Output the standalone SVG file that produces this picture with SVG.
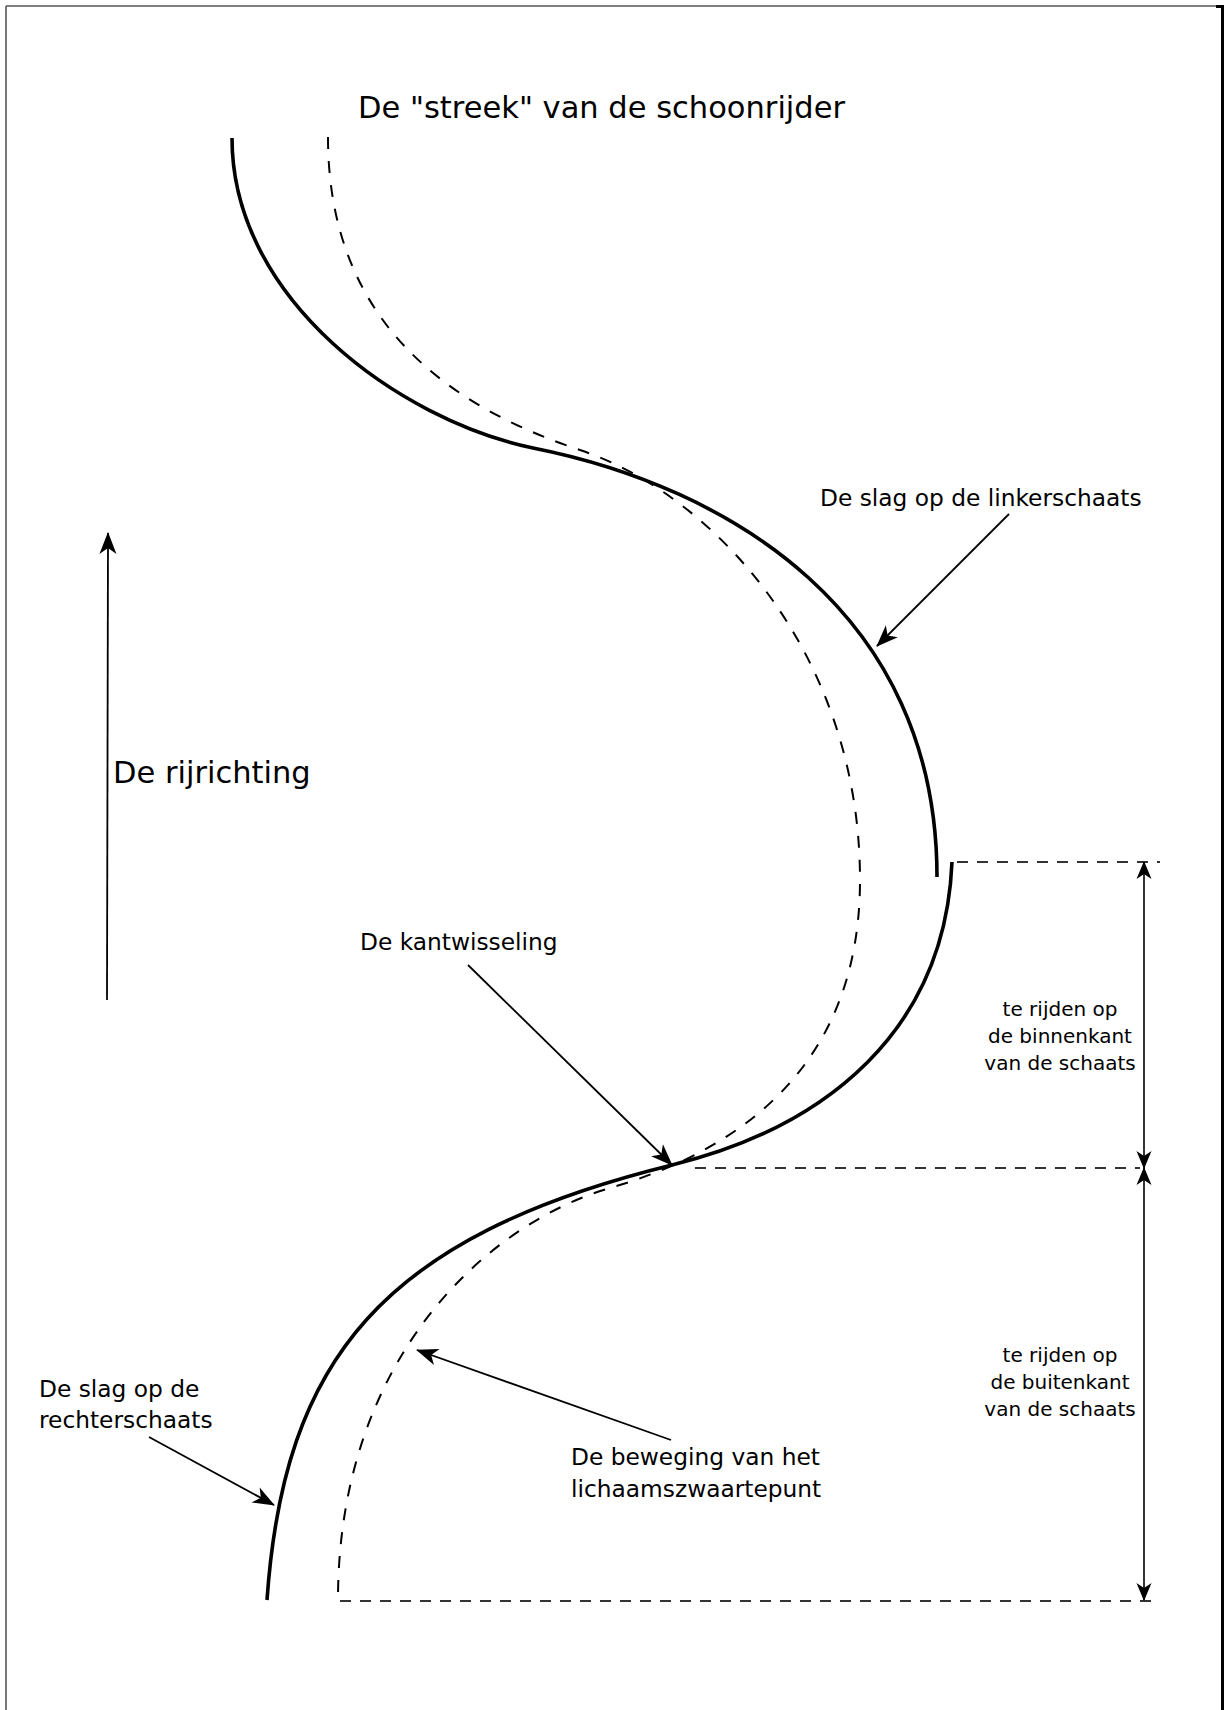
<svg xmlns="http://www.w3.org/2000/svg" width="1226" height="1710" viewBox="0 0 1226 1710">
<style>
  .frame-thin{stroke:#555;stroke-width:1.6;fill:none}
  .frame-thick{stroke:#000;stroke-width:3;fill:none}
  .solid{fill:none;stroke:#000;stroke-width:3.6;stroke-linecap:butt}
  .track{fill:none;stroke:#000;stroke-width:2;stroke-dasharray:12 12}
  .guide{fill:none;stroke:#333;stroke-width:1.8;stroke-dasharray:11 9}
  .arrow{fill:none;stroke:#000;stroke-width:1.8;marker-end:url(#ah)}
  .dim{fill:none;stroke:#000;stroke-width:1.6;marker-start:url(#ahs);marker-end:url(#ahs)}
  text{font-family:"DejaVu Sans",Verdana,sans-serif;fill:#000}
  .big{font-size:30.5px}
  .label{font-size:23.3px}
  .small{font-size:20px}
</style>
<defs>
  <marker id="ah" markerUnits="userSpaceOnUse" markerWidth="26" markerHeight="22" viewBox="-23 -11 26 22" refX="0" refY="0" orient="auto">
    <path d="M1,0 L-21,-8.5 L-15,0 L-21,8.5 Z" fill="#000"/>
  </marker>
  <marker id="ahs" markerUnits="userSpaceOnUse" markerWidth="22" markerHeight="20" viewBox="-20 -10 22 20" refX="0" refY="0" orient="auto-start-reverse">
    <path d="M1,0 L-17,-7.5 L-12,0 L-17,7.5 Z" fill="#000"/>
  </marker>
</defs>
<rect x="0" y="0" width="1226" height="1710" fill="#fff"/>

<g id="frame">
  <line class="frame-thin" x1="6" y1="6" x2="1218" y2="6"/>
  <line class="frame-thin" x1="6" y1="6" x2="6" y2="1710"/>
  <line class="frame-thick" x1="1222.5" y1="5" x2="1222.5" y2="1710"/>
  <line class="frame-thick" x1="1216" y1="6.5" x2="1224" y2="6.5"/>
</g>

<g id="title">
  <text class="big" x="358" y="118">De "streek" van de schoonrijder</text>
</g>

<g id="curves">
  <path id="slag-links" class="solid" d="M232,138 C232,300 400,420 533,448 C729,487 937,612 937,877"/>
  <path id="slag-rechts" class="solid" d="M952,862 C945,1030 827,1127 672,1165 C381,1237 283.8,1360 267,1600"/>
  <path id="zwaartepunt" class="track" d="M328,137 C328,330 460,410 580,450 C715,495 860,655 860,880 C860,1070 734.8,1151.6 610,1188 C485.2,1224.4 338,1360 338,1600"/>
</g>

<g id="guides">
  <line class="guide" x1="957" y1="862" x2="1160" y2="862"/>
  <line class="guide" x1="695" y1="1168" x2="1140" y2="1168"/>
  <line class="guide" x1="340" y1="1601" x2="1155" y2="1601"/>
</g>

<g id="connectors">
  <line class="arrow" x1="107" y1="1000" x2="108" y2="533"/>
  <line class="arrow" x1="1009" y1="514" x2="877" y2="646"/>
  <line class="arrow" x1="468" y1="965" x2="672" y2="1165"/>
  <line class="arrow" x1="149" y1="1437" x2="274" y2="1505"/>
  <line class="arrow" x1="671" y1="1440" x2="417" y2="1350"/>
  <line class="dim" x1="1144" y1="862" x2="1144" y2="1168"/>
  <line class="dim" x1="1144" y1="1168" x2="1144" y2="1600"/>
</g>

<g id="rijrichting">
  <text class="big" x="113" y="783">De rijrichting</text>
</g>
<g id="label-linkerschaats">
  <text class="label" x="820" y="506">De slag op de linkerschaats</text>
</g>
<g id="label-kantwisseling">
  <text class="label" x="360" y="950">De kantwisseling</text>
</g>
<g id="label-rechterschaats">
  <text class="label" x="39" y="1397">De slag op de</text>
  <text class="label" x="39" y="1428">rechterschaats</text>
</g>
<g id="label-beweging">
  <text class="label" x="571" y="1465">De beweging van het</text>
  <text class="label" x="571" y="1497">lichaamszwaartepunt</text>
</g>
<g id="label-binnenkant">
  <text class="small" x="1060" y="1016" text-anchor="middle">te rijden op</text>
  <text class="small" x="1060" y="1043" text-anchor="middle">de binnenkant</text>
  <text class="small" x="1060" y="1070" text-anchor="middle">van de schaats</text>
</g>
<g id="label-buitenkant">
  <text class="small" x="1060" y="1362" text-anchor="middle">te rijden op</text>
  <text class="small" x="1060" y="1389" text-anchor="middle">de buitenkant</text>
  <text class="small" x="1060" y="1416" text-anchor="middle">van de schaats</text>
</g>
</svg>
